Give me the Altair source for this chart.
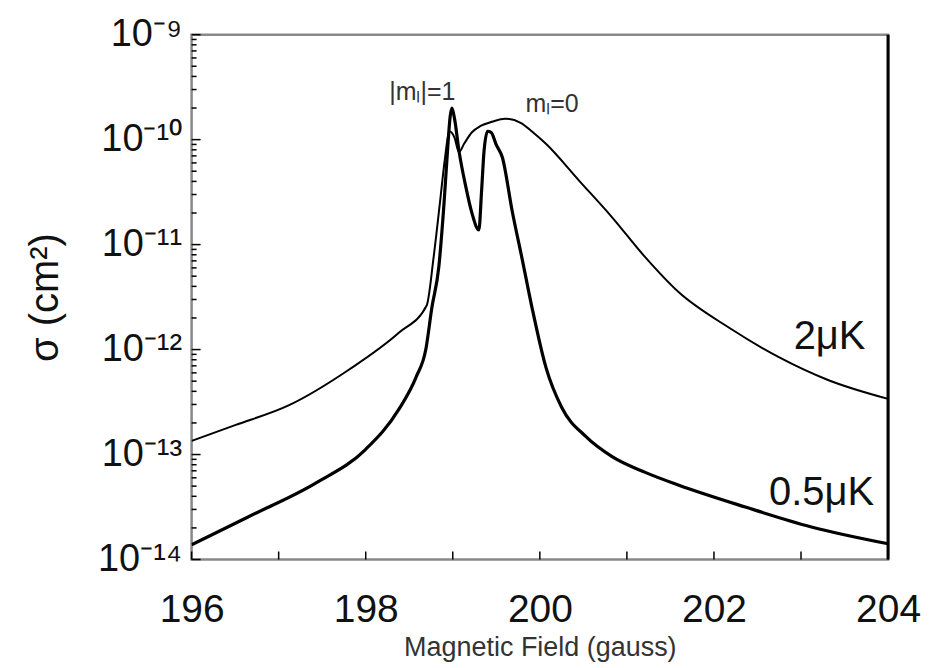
import altair as alt
import pandas as pd

# ---- data (log10 of sigma in cm^2) ----
field_2uK = [196.0, 196.5, 197.12, 197.81, 198.38, 198.70, 198.78, 198.85, 198.91, 198.96,
             199.02, 199.07, 199.13, 199.22, 199.32, 199.45, 199.60, 199.78, 199.92, 200.07,
             200.45, 200.83, 201.21, 201.59, 202.17, 202.74, 203.31, 204.0]
logsig_2uK = [-12.87, -12.72, -12.53, -12.19, -11.84, -11.58, -11.12, -10.62, -10.18, -9.92,
              -9.98, -10.12, -10.04, -9.93, -9.87, -9.83, -9.80, -9.84, -9.93, -10.04,
              -10.39, -10.74, -11.12, -11.45, -11.79, -12.07, -12.29, -12.47]

field_05uK = [196.0, 196.66, 197.43, 198.0, 198.38, 198.58, 198.69, 198.76, 198.84, 198.90,
              198.94, 198.97, 198.99, 199.02, 199.07, 199.15, 199.22, 199.30, 199.33, 199.36,
              199.40, 199.44, 199.50, 199.57, 199.68, 199.80, 199.91, 200.07, 200.25, 200.53,
              200.83, 201.21, 201.59, 202.36, 203.12, 204.0]
logsig_05uK = [-13.86, -13.59, -13.27, -12.95, -12.57, -12.26, -12.0, -11.6, -11.21, -10.6,
               -10.1, -9.78, -9.70, -9.80, -10.10, -10.45, -10.70, -10.86, -10.50, -10.10,
               -9.92, -9.93, -10.05, -10.17, -10.67, -11.15, -11.60, -12.17, -12.55, -12.83,
               -13.02, -13.17, -13.29, -13.50, -13.69, -13.85]

x_major_ticks = [196, 198, 200, 202, 204]
x_minor_ticks = [196, 197, 198, 199, 200, 201, 202, 203, 204]
y_decades = [-14, -13, -12, -11, -10, -9]
y_tick_labels = ["10\u207b\u00b9\u2074", "10\u207b\u00b9\u00b3", "10\u207b\u00b9\u00b2",
                 "10\u207b\u00b9\u00b9", "10\u207b\u00b9\u2070", "10\u207b\u2079"]
y_minor_mult = [2, 3, 4, 5, 6, 7, 8, 9]

curve_labels = ["2\u03bcK", "0.5\u03bcK"]
curve_label_x = [203.74, 203.84]
curve_label_log = [-11.88, -13.37]
peak_labels = ["|m\u2097|=1", "m\u2097=0"]
peak_label_x = [198.65, 200.14]
peak_label_log = [-9.55, -9.66]

W, H = 698, 526
FONT = "Liberation Sans"

df = pd.concat([
    pd.DataFrame({"B": field_2uK, "sigma": [10 ** v for v in logsig_2uK], "T": "2uK"}),
    pd.DataFrame({"B": field_05uK, "sigma": [10 ** v for v in logsig_05uK], "T": "0.5uK"}),
])

xs = alt.Scale(domain=[196, 204], nice=False, zero=False)
ys = alt.Scale(type="log", domain=[1e-14, 1e-9], nice=False)

label_expr = "[" + ",".join("'" + s + "'" for s in y_tick_labels) + "][round(log(datum.value)/LN10)+14]"

base = alt.Chart(df)

line2 = base.transform_filter(alt.datum.T == "2uK").mark_line(
    color="black", strokeWidth=2.0, interpolate="monotone", clip=True
).encode(
    x=alt.X("B:Q", scale=xs, axis=alt.Axis(
        values=x_major_ticks, format="d", title="Magnetic Field (gauss)", grid=False,
        domain=False, ticks=False, labelFont=FONT, labelFontSize=39, labelColor="#111",
        labelPadding=31, titleFont=FONT, titleFontSize=27,
        titleFontWeight="normal", titleColor="#333", titleY=88, titleBaseline="middle",
        labelFlush=False)),
    y=alt.Y("sigma:Q", scale=ys, axis=alt.Axis(
        values=[10.0 ** d for d in y_decades], labelExpr=label_expr, title="\u03c3 (cm\u00b2)",
        grid=False, domain=False, ticks=False, labelFont=FONT, labelFontSize=38,
        labelColor="#111", labelPadding=10, titleFont=FONT, titleFontSize=40,
        titleFontWeight="normal", titleColor="#111", titlePadding=32, labelFlush=False)),
)

line05 = base.transform_filter(alt.datum.T == "0.5uK").mark_line(
    color="black", strokeWidth=3.2, interpolate="monotone", clip=True
).encode(x=alt.X("B:Q", scale=xs), y=alt.Y("sigma:Q", scale=ys))

# inward tick marks
xt_df = pd.DataFrame({"B": x_minor_ticks})
xticks = alt.Chart(xt_df).mark_rule(color="black", strokeWidth=1.5).encode(
    x=alt.X("B:Q", scale=xs), y=alt.value(H), y2=alt.value(H - 8))

ymaj_df = pd.DataFrame({"v": [10.0 ** d for d in y_decades]})
ymin_df = pd.DataFrame({"v": [m * 10.0 ** d for d in y_decades[:-1] for m in y_minor_mult]})
ymaj = alt.Chart(ymaj_df).mark_rule(color="black", strokeWidth=1.5).encode(
    y=alt.Y("v:Q", scale=ys), x=alt.value(0), x2=alt.value(9))
ymin = alt.Chart(ymin_df).mark_rule(color="black", strokeWidth=1.5).encode(
    y=alt.Y("v:Q", scale=ys), x=alt.value(0), x2=alt.value(5))

right_edge = alt.Chart(xt_df.head(1)).mark_rule(color="black", strokeWidth=3).encode(
    x=alt.value(W), y=alt.value(0), y2=alt.value(H))

cl_df = pd.DataFrame({"t": curve_labels, "B": curve_label_x,
                      "s": [10 ** v for v in curve_label_log]})
clabels = alt.Chart(cl_df).mark_text(
    align="right", baseline="middle", font=FONT, fontSize=40, color="#111"
).encode(x=alt.X("B:Q", scale=xs), y=alt.Y("s:Q", scale=ys), text="t:N")

pl_df = pd.DataFrame({"t": peak_labels, "B": peak_label_x,
                      "s": [10 ** v for v in peak_label_log]})
plabels = alt.Chart(pl_df).mark_text(
    align="center", baseline="middle", font=FONT, fontSize=25, color="#333"
).encode(x=alt.X("B:Q", scale=xs), y=alt.Y("s:Q", scale=ys), text="t:N")

chart = alt.layer(line2, line05, xticks, ymaj, ymin, right_edge, clabels, plabels).properties(
    width=W, height=H,
    autosize=alt.AutoSizeParams(type="none"),
    padding={"left": 184, "top": 26, "right": 36, "bottom": 105},
    background="white",
).configure_view(stroke="#888", strokeWidth=2.5)

chart.save("out.html", embed_options={"renderer": "svg", "actions": False})
